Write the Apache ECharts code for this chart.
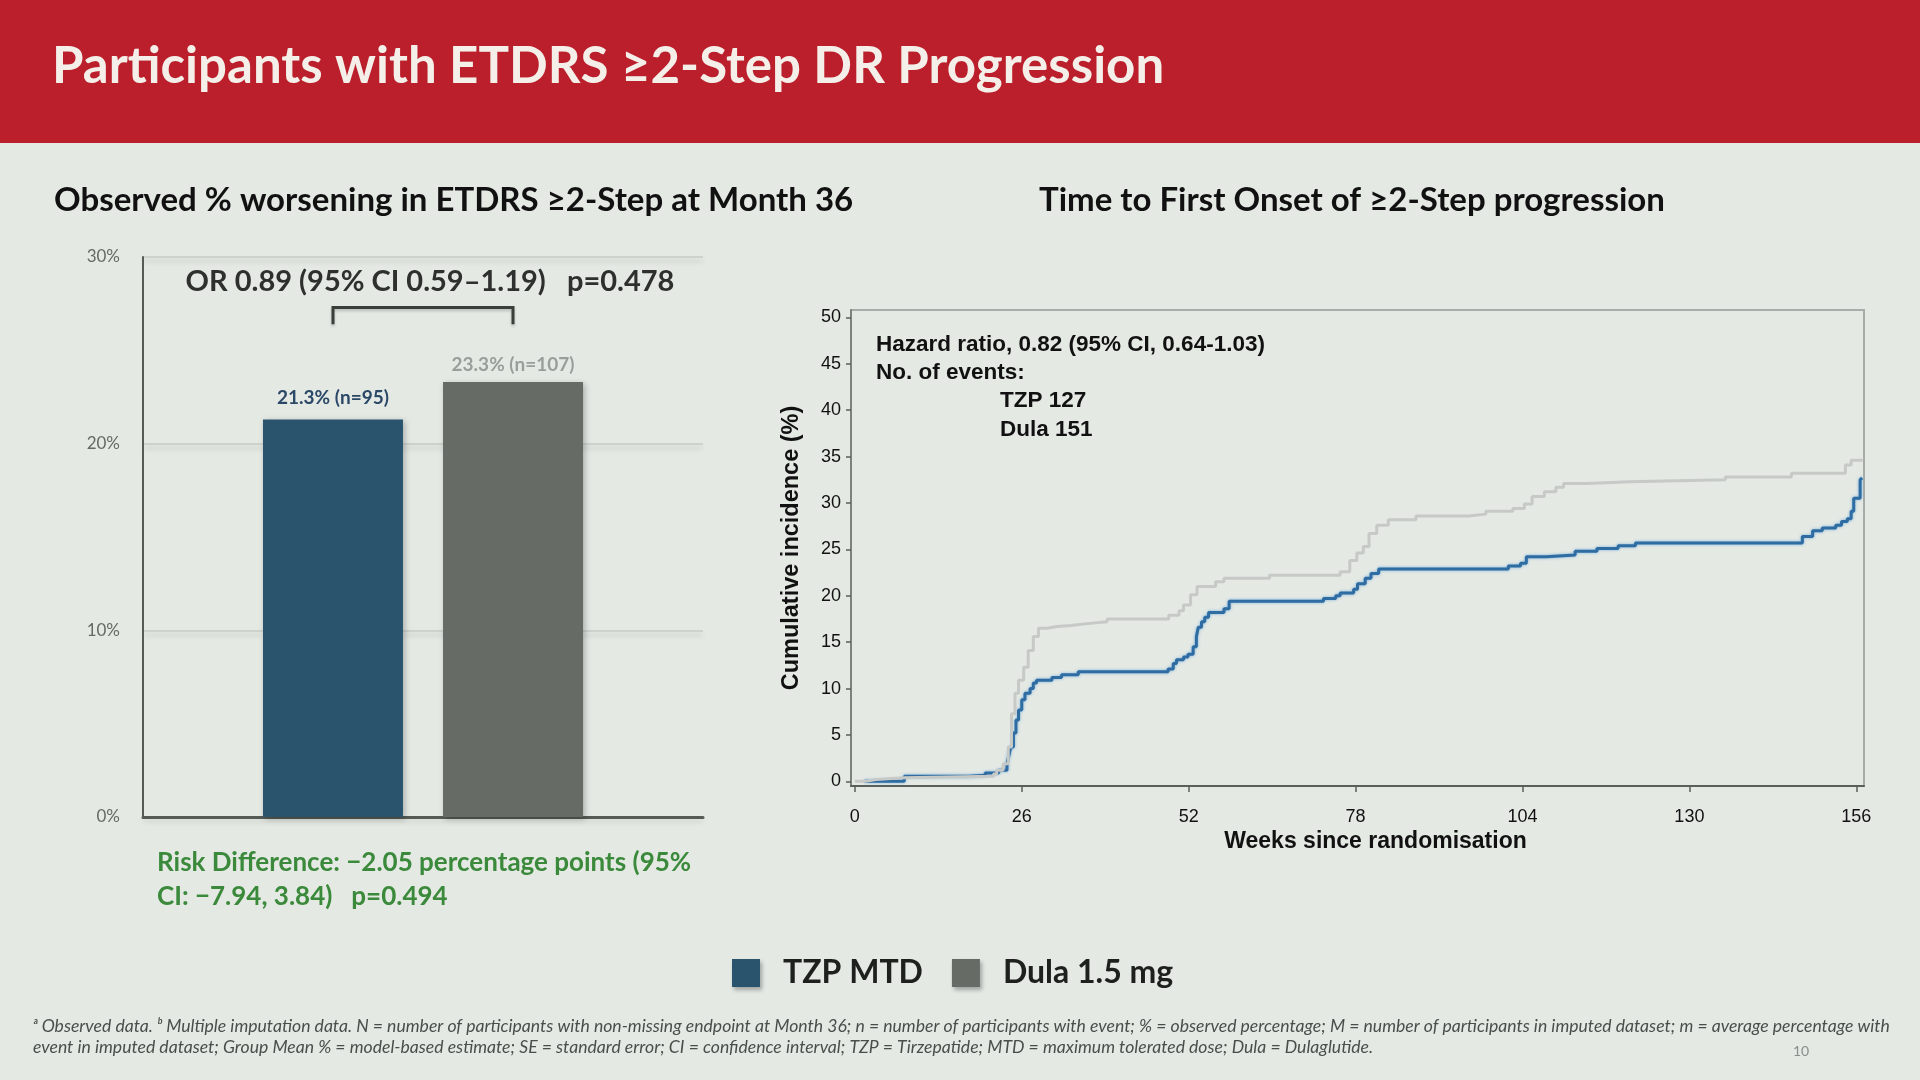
<!DOCTYPE html>
<html>
<head>
<meta charset="utf-8">
<script src="https://cdn.jsdelivr.net/npm/echarts@6/dist/echarts.min.js"></script>
<style>
  html, body { margin: 0; padding: 0; background: #e4e9e4; }
  #main { width: 1920px; height: 1080px; }
</style>
</head>
<body>
<div id="main"></div>
<script>
// bar chart: observed % at month 36
var groups = ['TZP MTD', 'Dula 1.5 mg'];
var observedPct = [21.3, 23.3];
var eventCounts = [95, 107];

// time to first onset (cumulative incidence, %)
var tzpWeeks = [1.5, 7.7, 17.7, 20.3, 22.4, 23.7, 24.0, 24.3, 24.7, 25.1, 25.5, 26.0, 26.5, 27.3, 27.8, 28.3,
    30.7, 32.2, 34.8, 48.8, 49.6, 50.1, 51.2, 51.9, 52.7, 53.2, 53.5, 54.0, 54.5, 55.1, 57.5, 58.3,
    73.0, 74.9, 75.6, 77.7, 78.3, 79.5, 80.4, 81.6, 101.8, 103.7, 104.6, 107.7, 112.2, 115.6, 118.9, 121.6,
    147.6, 149.2, 150.7, 152.8, 153.7, 154.6, 155.2, 155.6, 156.6, 156.9];
var tzpPct = [0, 0.55, 0.67, 0.9, 1.2, 1.9, 2.8, 3.7, 5.2, 6.6, 7.7, 8.8, 9.5, 10.0, 10.6, 10.9,
    11.2, 11.5, 11.8, 12.1, 12.7, 13.1, 13.4, 13.7, 14.5, 15.6, 16.6, 17.2, 17.7, 18.2, 18.6, 19.4,
    19.7, 20.0, 20.3, 20.7, 21.3, 21.9, 22.4, 22.9, 23.2, 23.5, 24.2, 24.4, 24.8, 25.1, 25.4, 25.7,
    26.4, 27.0, 27.3, 27.6, 28.0, 28.3, 29.1, 30.5, 32.5, 32.7];
var dulaWeeks = [0, 1.6, 3.3, 7.6, 21.6, 22.1, 23.1, 23.9, 24.4, 24.95, 25.5, 26.3, 27.0, 27.8, 28.6, 29.9,
    31.5, 33.6, 36.2, 39.3, 48.9, 50.5, 51.2, 52.3, 53.3, 56.2, 57.5, 64.6, 75.6, 77.1, 78.2, 79.2,
    80.1, 81.3, 83.1, 87.4, 95.6, 98.3, 102.5, 104.3, 105.5, 107.4, 109.2, 110.4, 114.0, 120.7, 135.6, 145.9,
    154.3, 155.2, 157.0];
var dulaPct = [0, 0.2, 0.4, 0.55, 0.8, 1.2, 1.9, 3.7, 7.3, 9.5, 10.9, 12.3, 14.1, 15.6, 16.5, 16.7,
    16.8, 17.0, 17.2, 17.5, 17.9, 18.4, 19.0, 20.1, 21.0, 21.5, 21.9, 22.2, 22.6, 23.8, 24.6, 25.3,
    26.7, 27.6, 28.2, 28.6, 28.8, 29.1, 29.4, 29.9, 30.7, 31.2, 31.7, 32.1, 32.3, 32.5, 32.8, 33.2,
    34.1, 34.6, 34.6];
var weekTicks = [0, 26, 52, 78, 104, 130, 156];
var incidenceTicks = [0, 5, 10, 15, 20, 25, 30, 35, 40, 45, 50];

var footnote1 = '\u1d43 Observed data. \u1d47 Multiple imputation data. N = number of participants with non-missing endpoint at Month 36; n = number of participants with event; % = observed percentage; M = number of participants in imputed dataset; m = average percentage with';
var footnote2 = 'event in imputed dataset; Group Mean % = model-based estimate; SE = standard error; CI = confidence interval; TZP = Tirzepatide; MTD = maximum tolerated dose; Dula = Dulaglutide.';

var SLIDE_FONT = 'Lato, "Open Sans", sans-serif';
var PLOT_FONT = '"Liberation Sans Narrow", "Liberation Sans", Arial, sans-serif';
var barColors = ['#2a546e', '#666b66'];

function zip(xs, ys) {
    var out = [];
    for (var i = 0; i < xs.length; i++) {
        out.push([xs[i], ys[i]]);
    }
    return out;
}

var chart = echarts.init(document.getElementById('main'));

var option = {
    animation: false,
    backgroundColor: '#e4e9e4',
    title: [{
        text: 'Participants with ETDRS \u22652-Step DR Progression',
        left: 52, top: 41, padding: 0,
        textStyle: { color: '#f4efe9', fontFamily: SLIDE_FONT, fontWeight: 'bold', fontSize: 51 }
    }, {
        text: 'Observed % worsening in ETDRS \u22652-Step at Month 36',
        left: 54, top: 184, padding: 0,
        textStyle: { color: '#111', fontFamily: SLIDE_FONT, fontWeight: 'bold', fontSize: 33 }
    }, {
        text: 'Time to First Onset of \u22652-Step progression',
        left: 1039, top: 184, padding: 0,
        textStyle: { color: '#111', fontFamily: SLIDE_FONT, fontWeight: 'bold', fontSize: 33 }
    }],
    legend: {
        data: groups,
        left: 727, top: 952,
        icon: 'rect',
        itemWidth: 28, itemHeight: 28, itemGap: 29,
        itemStyle: { shadowColor: 'rgba(0,0,0,0.3)', shadowBlur: 4, shadowOffsetX: 2, shadowOffsetY: 3 },
        textStyle: { color: '#1e201e', fontFamily: SLIDE_FONT, fontWeight: 'bold', fontSize: 32, padding: [0, 0, 0, 18] }
    },
    grid: [{
        left: 143, width: 560, top: 257, height: 560
    }, {
        left: 851, width: 1013, top: 310, height: 476,
        show: true, borderColor: '#a9ada9', borderWidth: 2, backgroundColor: 'transparent'
    }],
    xAxis: [{
        type: 'category', gridIndex: 0,
        data: ['Month 36'],
        axisLine: { lineStyle: { color: '#555b55', width: 3 } },
        axisTick: { show: false },
        axisLabel: { show: false }
    }, {
        type: 'value', gridIndex: 1,
        min: -0.6, max: 157.2,
        name: 'Weeks since randomisation',
        nameLocation: 'middle', nameGap: 44,
        nameTextStyle: { color: '#111', fontFamily: PLOT_FONT, fontWeight: 'bold', fontSize: 23, padding: [0, 0, 0, 36] },
        axisLine: { onZero: false, lineStyle: { color: '#5a5f5a', width: 2 } },
        axisTick: { customValues: weekTicks, length: 6, lineStyle: { color: '#5a5f5a', width: 1.5 } },
        axisLabel: { customValues: weekTicks, margin: 22, color: '#111', fontFamily: PLOT_FONT, fontSize: 18 },
        splitLine: { show: false }
    }],
    yAxis: [{
        type: 'value', gridIndex: 0,
        min: 0, max: 30, interval: 10,
        axisLine: { show: true, lineStyle: { color: '#555b55', width: 2 } },
        axisTick: { show: false },
        axisLabel: { formatter: '{value}%', margin: 23, color: '#656a65', fontFamily: SLIDE_FONT, fontSize: 17 },
        splitLine: {
            lineStyle: { color: '#cdd2cd', width: 2, shadowColor: 'rgba(0,0,0,0.12)', shadowBlur: 5, shadowOffsetY: 4 }
        }
    }, {
        type: 'value', gridIndex: 1,
        min: -0.5, max: 50.8,
        name: 'Cumulative incidence (%)',
        nameLocation: 'middle', nameGap: 47,
        nameTextStyle: { color: '#111', fontFamily: PLOT_FONT, fontWeight: 'bold', fontSize: 23.5 },
        axisLine: { show: true, onZero: false, lineStyle: { color: '#7d827d', width: 2 } },
        axisTick: { show: true, customValues: incidenceTicks, length: 5, lineStyle: { color: '#5a5f5a', width: 1.5 } },
        axisLabel: { customValues: incidenceTicks, margin: 10, color: '#111', fontFamily: PLOT_FONT, fontSize: 18 },
        splitLine: { show: false }
    }],
    series: [{
        name: groups[0], type: 'bar', xAxisIndex: 0, yAxisIndex: 0,
        data: [observedPct[0]],
        barWidth: 140, barGap: '28.6%',
        itemStyle: { color: barColors[0], shadowColor: 'rgba(0,0,0,0.25)', shadowBlur: 6, shadowOffsetX: 2, shadowOffsetY: 2 },
        label: {
            show: true, position: 'top', distance: 12,
            formatter: observedPct[0] + '% (n=' + eventCounts[0] + ')',
            color: '#2b4866', fontFamily: SLIDE_FONT, fontWeight: 'bold', fontSize: 19
        }
    }, {
        name: groups[1], type: 'bar', xAxisIndex: 0, yAxisIndex: 0,
        data: [observedPct[1]],
        barWidth: 140, barGap: '28.6%',
        itemStyle: { color: barColors[1], shadowColor: 'rgba(0,0,0,0.25)', shadowBlur: 6, shadowOffsetX: 2, shadowOffsetY: 2 },
        label: {
            show: true, position: 'top', distance: 8,
            formatter: observedPct[1] + '% (n=' + eventCounts[1] + ')',
            color: '#9a9e9a', fontFamily: SLIDE_FONT, fontWeight: 'bold', fontSize: 19
        }
    }, {
        name: 'TZP', type: 'line', xAxisIndex: 1, yAxisIndex: 1,
        step: 'end', showSymbol: false,
        data: zip(tzpWeeks, tzpPct),
        lineStyle: { color: '#2e6ca2', width: 3, shadowColor: 'rgba(110,170,220,0.9)', shadowBlur: 3 }
    }, {
        name: 'Dula', type: 'line', xAxisIndex: 1, yAxisIndex: 1,
        step: 'end', showSymbol: false,
        data: zip(dulaWeeks, dulaPct),
        lineStyle: { color: '#c6c9c6', width: 3 }
    }]
};

chart.setOption(option);

// bracket between the two bars, placed from the axis scales
var catX = chart.convertToPixel({ xAxisIndex: 0 }, 'Month 36');
var halfSpan = (140 + 40) / 2;
var yTop = chart.convertToPixel({ yAxisIndex: 0 }, 27.3);
var yLeg = chart.convertToPixel({ yAxisIndex: 0 }, 26.4);

chart.setOption({
    graphic: [{
        type: 'rect', left: 0, top: 0, z: -1,
        shape: { width: 1920, height: 143 },
        style: { fill: '#bb1f2b' }
    }, {
        type: 'polyline', z: 10,
        shape: { points: [[catX - halfSpan, yLeg], [catX - halfSpan, yTop], [catX + halfSpan, yTop], [catX + halfSpan, yLeg]] },
        style: { stroke: '#3a3f3a', lineWidth: 3, fill: null, shadowColor: 'rgba(0,0,0,0.2)', shadowBlur: 3, shadowOffsetY: 2 }
    }, {
        type: 'text', x: 430, y: 282, z: 10,
        style: {
            text: 'OR 0.89 (95% CI 0.59\u20131.19)   p=0.478', align: 'center', verticalAlign: 'middle',
            fill: '#2e302e', font: 'bold 29px ' + SLIDE_FONT
        }
    }, {
        type: 'text', x: 157, y: 863, z: 10,
        style: {
            text: 'Risk Difference: \u22122.05 percentage points (95%', verticalAlign: 'middle',
            fill: '#3b8a3b', font: 'bold 26px ' + SLIDE_FONT
        }
    }, {
        type: 'text', x: 157, y: 897, z: 10,
        style: {
            text: 'CI: \u22127.94, 3.84)   p=0.494', verticalAlign: 'middle',
            fill: '#3b8a3b', font: 'bold 26px ' + SLIDE_FONT
        }
    }, {
        type: 'text', x: 876, y: 345, z: 10,
        style: { text: 'Hazard ratio, 0.82 (95% CI, 0.64-1.03)', verticalAlign: 'middle', fill: '#111', font: 'bold 22.5px ' + PLOT_FONT }
    }, {
        type: 'text', x: 876, y: 373, z: 10,
        style: { text: 'No. of events:', verticalAlign: 'middle', fill: '#111', font: 'bold 22.5px ' + PLOT_FONT }
    }, {
        type: 'text', x: 1000, y: 401, z: 10,
        style: { text: 'TZP 127', verticalAlign: 'middle', fill: '#111', font: 'bold 22.5px ' + PLOT_FONT }
    }, {
        type: 'text', x: 1000, y: 430, z: 10,
        style: { text: 'Dula 151', verticalAlign: 'middle', fill: '#111', font: 'bold 22.5px ' + PLOT_FONT }
    }, {
        type: 'text', x: 33, y: 1026, z: 10,
        style: { text: footnote1, verticalAlign: 'middle', fill: '#4a4e4a', font: 'italic 17.6px ' + SLIDE_FONT }
    }, {
        type: 'text', x: 33, y: 1047, z: 10,
        style: { text: footnote2, verticalAlign: 'middle', fill: '#4a4e4a', font: 'italic 17.6px ' + SLIDE_FONT }
    }, {
        type: 'text', x: 1801, y: 1051, z: 10,
        style: { text: '10', align: 'center', verticalAlign: 'middle', fill: '#8a8e8a', font: '14px ' + SLIDE_FONT }
    }]
});
</script>
</body>
</html>
